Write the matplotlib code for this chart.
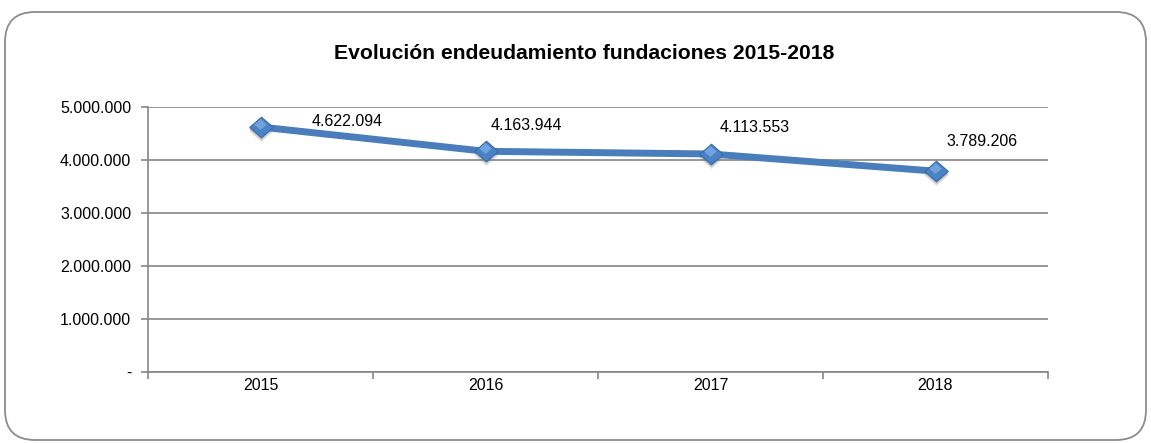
import matplotlib.pyplot as plt
import matplotlib.transforms as mtransforms
from matplotlib.patches import FancyBboxPatch
from matplotlib.ticker import FixedLocator, FuncFormatter

plt.rcParams['font.family'] = ['Liberation Sans', 'DejaVu Sans']

years = ['2015', '2016', '2017', '2018']
deuda = [4622094, 4163944, 4113553, 3789206]
title = 'Evolución endeudamiento fundaciones 2015-2018'

# label offsets from the point, in pixels (dx, dy up)
label_offsets = [(87, 6), (41, 26), (44, 26), (47, 30)]

# slightly flattened diamond, like the Excel marker
rombo = [(-1, 0), (0, 0.87), (1, 0), (0, -0.87), (-1, 0)]


def fmt_miles(v, pos=None):
    if v == 0:
        return '-'
    return f'{int(round(v)):,}'.replace(',', '.')


fig = plt.figure(figsize=(11.51, 4.43), dpi=100)

# rounded outer frame
frame = FancyBboxPatch((0.35, 0.33), 10.81, 3.68,
                       boxstyle='round,pad=0.3',
                       transform=fig.dpi_scale_trans,
                       facecolor='none', edgecolor='#8c8c8c', linewidth=1.3,
                       zorder=-1)
fig.patches.append(frame)

ax = fig.add_axes([148 / 1151, 1 - 372 / 443, 900 / 1151, 265 / 443])
ax.set_facecolor('none')

x = list(range(len(years)))
grid_c = '#868686'

ax.set_ylim(0, 5000000)
ax.set_xlim(-0.5, len(years) - 0.5)
ax.set_yticks([0, 1000000, 2000000, 3000000, 4000000, 5000000])
ax.yaxis.set_major_formatter(FuncFormatter(fmt_miles))
ax.grid(axis='y', color=grid_c, linewidth=1.2)
ax.set_axisbelow(True)

ax.xaxis.set_major_locator(FixedLocator([i - 0.5 for i in range(len(years) + 1)]))
ax.xaxis.set_major_formatter(FuncFormatter(lambda v, p: ''))
ax.set_xticks(x, minor=True)
ax.set_xticklabels(years, minor=True)
ax.tick_params(axis='x', which='minor', length=0, pad=4, labelsize=11.5)
ax.tick_params(axis='x', which='major', length=5, color=grid_c, width=1.2)
ax.tick_params(axis='y', length=5, color=grid_c, width=1.2, pad=7, labelsize=11.5)

for s in ['top', 'right']:
    ax.spines[s].set_visible(False)
for s in ['left', 'bottom']:
    ax.spines[s].set_color(grid_c)
    ax.spines[s].set_linewidth(1.2)

# soft shadow under the markers
for k, a in [(4, 0.12), (3, 0.18), (2, 0.25)]:
    shadow = mtransforms.offset_copy(ax.transData, fig=fig, x=0, y=-k, units='dots')
    ax.plot(x, deuda, linestyle='none', marker=rombo, markersize=16 + k * 0.5,
            color='#7a7a7a', alpha=a, markeredgewidth=0,
            transform=shadow, zorder=3, clip_on=False)

ax.plot(x, deuda, color='#4a7ebb', linewidth=5, zorder=4, clip_on=False)
ax.plot(x, deuda, linestyle='none', marker=rombo, markersize=17,
        markerfacecolor='#4a82c6', markeredgecolor='#3a6aa6', markeredgewidth=0.8,
        zorder=5, clip_on=False)
# highlight on the upper half of the diamond
hl = mtransforms.offset_copy(ax.transData, fig=fig, x=-1, y=3, units='dots')
ax.plot(x, deuda, linestyle='none', marker=rombo, markersize=9,
        color='#8db8ea', alpha=0.6, markeredgewidth=0,
        transform=hl, zorder=6, clip_on=False)

for xi, v, (dx, dy) in zip(x, deuda, label_offsets):
    ax.annotate(fmt_miles(v), (xi, v), xytext=(dx * 0.72, dy * 0.72),
                textcoords='offset points', ha='center', va='center',
                fontsize=11.5, color='black')

fig.text(584 / 1151, 1 - 59 / 443, title, ha='center', va='baseline',
         fontsize=15.2, fontweight='bold')

fig.savefig('out.png', dpi=100)
